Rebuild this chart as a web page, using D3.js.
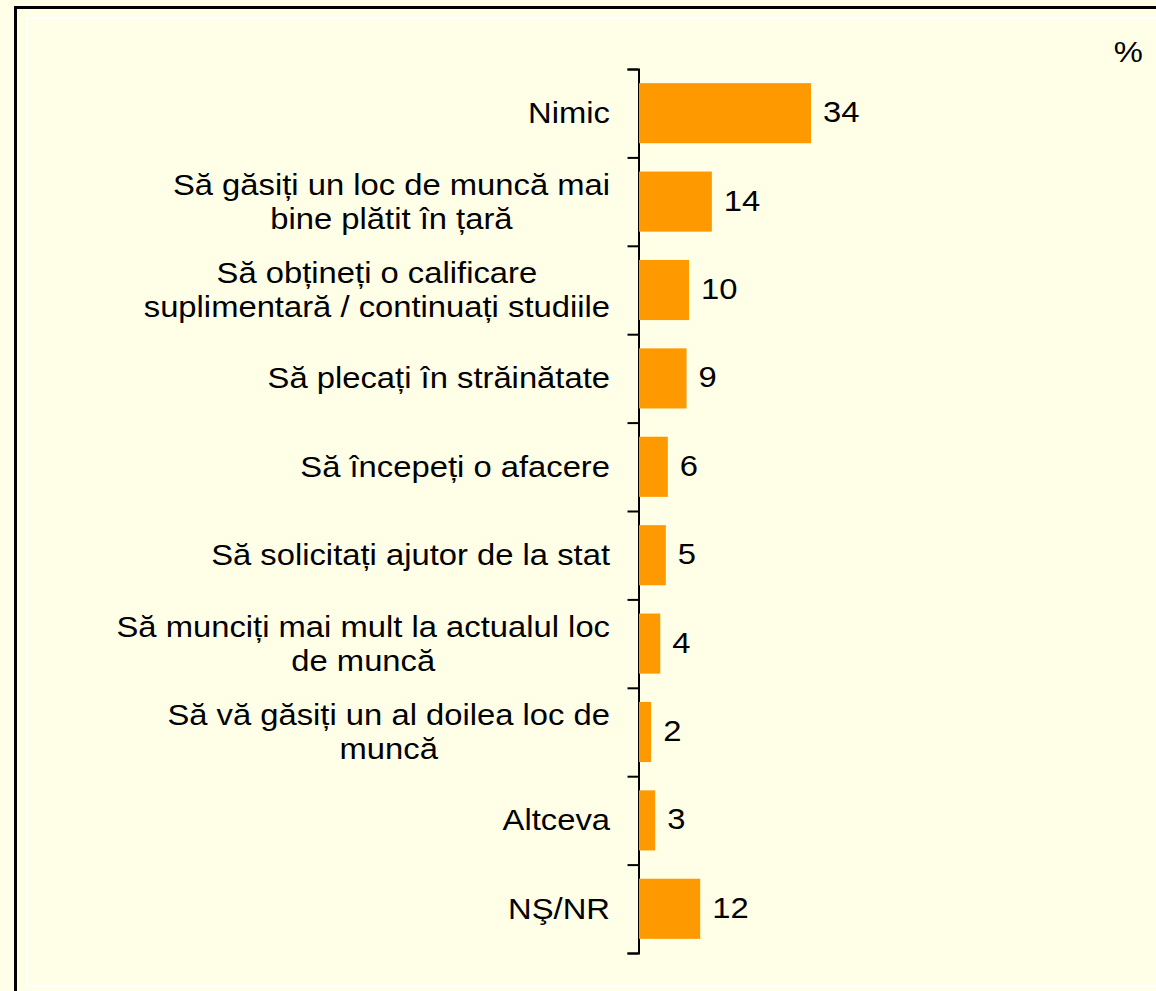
<!DOCTYPE html>
<html>
<head>
<meta charset="utf-8">
<script src="https://cdn.jsdelivr.net/npm/d3@7"></script>
<style>
  body { margin: 0; background: #FFFFE7; }
  text { font-family: "Liberation Sans", Arial, sans-serif; fill: #000; }
</style>
</head>
<body>
<svg id="chart"></svg>
<script>
// categories (each entry is the list of lines of its label)
const categories = [
    ['Nimic'],
    ['Să găsiți un loc de muncă mai', 'bine plătit în țară'],
    ['Să obțineți o calificare', 'suplimentară / continuați studiile'],
    ['Să plecați în străinătate'],
    ['Să începeți o afacere'],
    ['Să solicitați ajutor de la stat'],
    ['Să munciți mai mult la actualul loc', 'de muncă'],
    ['Să vă găsiți un al doilea loc de', 'muncă'],
    ['Altceva'],
    ['NŞ/NR']
];
// bar lengths; labels are the rounded values shown
const values = [34, 14.4, 9.9, 9.4, 5.7, 5.3, 4.2, 2.4, 3.2, 12.1];
const unitLabel = '%';

const width = 1156, height = 991;
const svg = d3.select('#chart').attr('width', width).attr('height', height);

// the source text is stretched a bit horizontally
const sx = 1.13;

// frame
svg.append('rect')
    .attr('x', 15.5).attr('y', 7.5)
    .attr('width', width + 20).attr('height', height + 20)
    .attr('fill', '#FFFFE7').attr('stroke', '#000').attr('stroke-width', 3);
svg.append('rect')
    .attr('x', 27).attr('y', 18)
    .attr('width', width + 20).attr('height', 968)
    .attr('fill', 'none').attr('stroke', '#fff').attr('stroke-width', 2);

const axisX = 638;
const plotTop = 69, plotBottom = 953;
const keys = categories.map((d, i) => i);

const y = d3.scaleBand()
    .domain(keys)
    .range([plotTop, plotBottom])
    .paddingInner(0.32)
    .paddingOuter(0.16);

const x = d3.scaleLinear()
    .domain([0, 34])
    .range([axisX + 1, 811]);

// axis with ticks at the category boundaries
const yEdges = d3.scaleLinear().domain([0, categories.length]).range([plotTop, plotBottom]);
const yAxis = d3.axisLeft(yEdges)
    .tickValues(d3.range(categories.length + 1))
    .tickFormat('')
    .tickSizeInner(11)
    .tickSizeOuter(11);

const axisG = svg.append('g')
    .attr('transform', `translate(${axisX + 0.5},0)`)
    .call(yAxis);
axisG.selectAll('path, line').attr('stroke', '#000').attr('stroke-width', 2);

// bars
svg.append('g').selectAll('rect')
    .data(values)
    .join('rect')
    .attr('x', x(0))
    .attr('y', (d, i) => y(i))
    .attr('width', d => x(d) - x(0))
    .attr('height', y.bandwidth())
    .attr('fill', '#FF9900');

// value labels
svg.append('g').selectAll('text')
    .data(values)
    .join('text')
    .attr('transform', (d, i) => `translate(${x(d) + 12},${y(i) + y.bandwidth() / 2 + 9}) scale(${sx},1)`)
    .style('font-size', '29px')
    .text(d => Math.round(d));

// category labels: block right-aligned at 610, lines centred inside it
const lineH = 34;
const labelRight = 610;
const labels = svg.append('g').selectAll('text')
    .data(categories)
    .join('text')
    .attr('transform', `translate(${labelRight},0) scale(${sx},1)`)
    .style('font-size', '29px')
    .attr('text-anchor', 'middle');

labels.each(function(lines, i) {
    const t = d3.select(this);
    const cy = y(i) + y.bandwidth() / 2 + 1;
    const first = cy - (lines.length - 1) * lineH / 2 + 9;
    lines.forEach((ln, j) => {
        t.append('tspan').attr('y', first + j * lineH).text(ln);
    });
    let maxW = 0;
    t.selectAll('tspan').each(function() {
        maxW = Math.max(maxW, this.getComputedTextLength());
    });
    t.selectAll('tspan').attr('x', -maxW / 2);
});

svg.append('text')
    .attr('transform', `translate(1143,62) scale(${sx},1)`)
    .attr('text-anchor', 'end')
    .style('font-size', '29px')
    .text(unitLabel);
</script>
</body>
</html>
